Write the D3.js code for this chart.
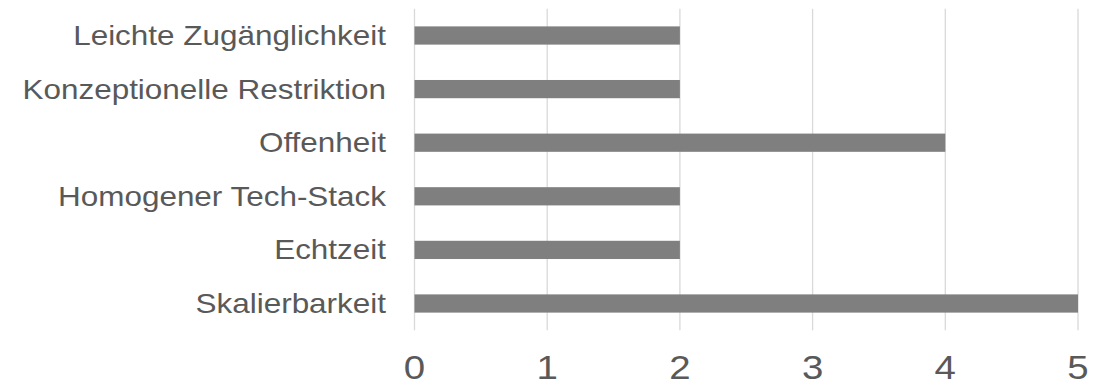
<!DOCTYPE html>
<html>
<head>
<meta charset="utf-8">
<script src="https://cdn.jsdelivr.net/npm/d3@7"></script>
<style>
  body { margin: 0; background: #fff; }
  svg text { font-family: "Liberation Sans", Arial, sans-serif; fill: #595959; }
</style>
</head>
<body>
<svg id="chart" width="1105" height="381"></svg>
<script>
// categories top to bottom, as they appear in the chart
const categories = [
  "Leichte Zugänglichkeit",
  "Konzeptionelle Restriktion",
  "Offenheit",
  "Homogener Tech-Stack",
  "Echtzeit",
  "Skalierbarkeit"
];
const values = [2, 2, 4, 2, 2, 5];
const xTicks = [0, 1, 2, 3, 4, 5];

const svg = d3.select("#chart");
const plotLeft = 414.5, plotRight = 1078, plotTop = 8.7, plotBottom = 330.3;
const stretch = 1.165; // the source picture is a bit wider than tall, text too

const x = d3.scaleLinear().domain([0, 5]).range([plotLeft, plotRight]);
const y = d3.scaleBand().domain(categories).range([plotTop, plotBottom]).paddingInner(0.66).paddingOuter(0.33);

// vertical gridlines
svg.append("g")
  .selectAll("line")
  .data(xTicks)
  .enter().append("line")
  .attr("x1", d => x(d)).attr("x2", d => x(d))
  .attr("y1", plotTop).attr("y2", plotBottom)
  .attr("stroke", "#d9d9d9")
  .attr("stroke-width", 1.3);

// bars
svg.append("g")
  .selectAll("rect")
  .data(values)
  .enter().append("rect")
  .attr("x", x(0))
  .attr("y", (d, i) => y(categories[i]))
  .attr("width", d => x(d) - x(0))
  .attr("height", y.bandwidth())
  .attr("fill", "#7f7f7f");

// category labels
svg.append("g")
  .selectAll("text")
  .data(categories)
  .enter().append("text")
  .attr("transform", d => `translate(386,${y(d) + y.bandwidth() / 2}) scale(${stretch},1)`)
  .attr("dy", "0.35em")
  .attr("text-anchor", "end")
  .style("font-size", "27px")
  .text(d => d);

// x tick labels
svg.append("g")
  .selectAll("text")
  .data(xTicks)
  .enter().append("text")
  .attr("transform", d => `translate(${x(d)},378.5) scale(${stretch},1)`)
  .attr("text-anchor", "middle")
  .style("font-size", "33px")
  .text(d => d);
</script>
</body>
</html>
